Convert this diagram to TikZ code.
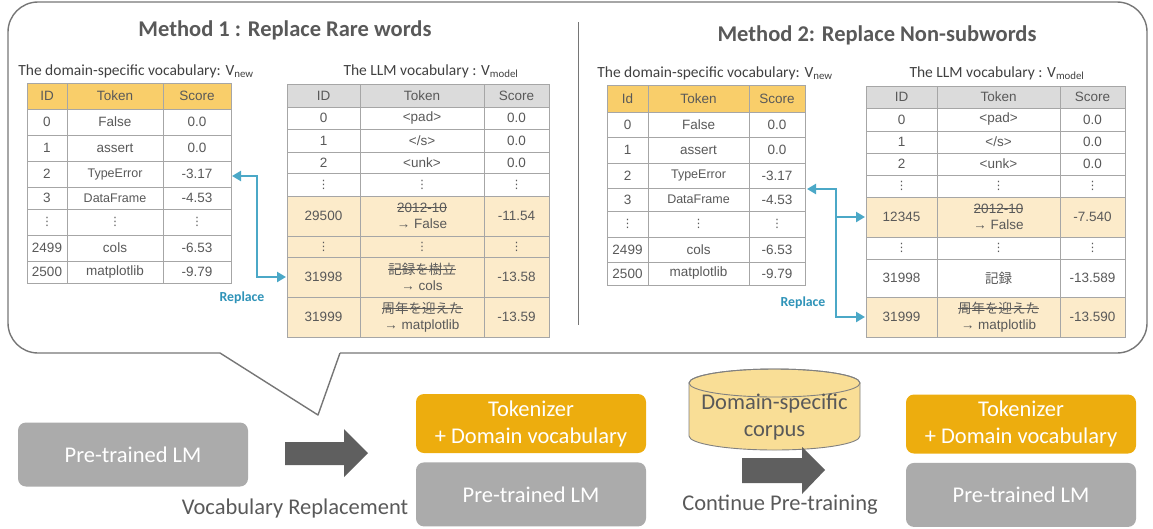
\documentclass[tikz,border=0pt]{standalone}
\usepackage{fontspec}
\setmainfont{Carlito}
\newfontfamily\tabfont{Liberation Sans}
\newfontfamily\jp{Noto Sans CJK JP}
\newfontfamily\dejavu{DejaVu Sans}
\usetikzlibrary{positioning,arrows.meta}

\definecolor{tabtext}{RGB}{89,89,89}
\definecolor{titletext}{RGB}{89,89,89}
\definecolor{labeltext}{RGB}{64,64,64}
\definecolor{gridgray}{RGB}{166,166,166}
\definecolor{hdryellow}{RGB}{249,206,106}
\definecolor{hdrgray}{RGB}{219,219,219}
\definecolor{hlpeach}{RGB}{252,235,202}
\definecolor{boxgray}{RGB}{171,171,171}
\definecolor{boxorange}{RGB}{237,173,14}
\definecolor{corpusfill}{RGB}{249,222,150}
\definecolor{corpusline}{RGB}{128,128,128}
\definecolor{arrowgray}{RGB}{95,95,95}
\definecolor{replteal}{RGB}{75,168,199}
\definecolor{repltext}{RGB}{47,147,184}
\definecolor{bubblegray}{RGB}{118,118,118}

\newsavebox\strkbox
\newcommand\strk[1]{\sbox\strkbox{#1}\rlap{\rule[0.32em]{\wd\strkbox}{0.6pt}}\usebox\strkbox}
\newcommand\smallcell{\fontsize{12.5}{15}\selectfont}
\newcommand\vd{{\dejavu\fontsize{11.5}{11.5}\selectfont ⋮}}

\tikzset{
  cell/.style={font=\tabfont\fontsize{13.5}{16.5}\selectfont, text=tabtext, inner sep=0pt, align=center},
  cellbox/.style={draw=gridgray, line width=0.8pt},
  headline/.style={font=\bfseries\fontsize{22.5}{27}\selectfont, text=titletext},
  vlabel/.style={font=\fontsize{15.5}{18}\selectfont, text=labeltext},
  lmbox/.style={fill=boxgray, rounded corners=8pt, text=white, minimum width=230pt,
    minimum height=64pt, align=center, font=\fontsize{22.5}{27}\selectfont},
  tokbox/.style={lmbox, fill=boxorange, minimum height=59pt},
  steptext/.style={font=\fontsize{22.5}{27}\selectfont, text=titletext, align=center},
  repl/.style={draw=replteal, line width=2.8pt},
  repltip/.tip={Triangle[length=9pt,width=10pt]},
  repllabel/.style={font=\bfseries\fontsize{13.8}{16}\selectfont, text=repltext},
  bubble/.style={draw=bubblegray, line width=1.4pt, line join=round},
  bigarrow/.style={fill=arrowgray},
  corpus/.style={fill=corpusfill, draw=corpusline, line width=0.9pt}
}

% one vocabulary table: name, four column edges, rows
\newcommand{\vtable}[6]{%
  \foreach \yt/\yb/\cl/\id/\tok/\sc [count=\i] in {#6} {
    \filldraw[cellbox, fill=\cl] (#2,\yt) rectangle (#3,\yb);
    \filldraw[cellbox, fill=\cl] (#3,\yt) rectangle (#4,\yb);
    \filldraw[cellbox, fill=\cl] (#4,\yt) rectangle (#5,\yb);
    \node[cell] (#1-\i-id) at ({(#2+#3)/2},{(\yt+\yb)/2}) {\id};
    \node[cell] (#1-\i-tok) at ({(#3+#4)/2},{(\yt+\yb)/2}) {\tok};
    \node[cell] (#1-\i-sc) at ({(#4+#5)/2},{(\yt+\yb)/2}) {\sc};
  }}

\begin{document}
\begin{tikzpicture}[x=1pt,y=-1pt]
  \useasboundingbox (0,0) rectangle (1153,528);

  % speech bubble
  \draw[bubble, rounded corners=30pt]
    (220,353) -- (8,353) -- (8,2) -- (1147,2) -- (1147,353) -- (340,353);
  \draw[bubble] (340,353) -- (318,415) -- (220,353);
  \draw[bubblegray, line width=1pt] (578,22) -- (578,325);

  % method 1
  \node[headline] (m1title) at (285,30) {Method 1 : Replace Rare words};
  \node[vlabel] (m1newlabel) at (136,71) {The domain-specific vocabulary: V\textsubscript{new}};
  \node[vlabel] (m1llmlabel) at (431,71) {The LLM vocabulary : V\textsubscript{model}};

  \vtable{m1new}{27}{67}{163}{231}{
    83/109/hdryellow/ID/Token/Score,
    109/135/white/0/False/0.0,
    135/161/white/1/assert/0.0,
    161/187/white/2/{\smallcell TypeError}/-3.17,
    187/209/white/3/{\smallcell DataFrame}/-4.53,
    209/235/white/\vd/\vd/\vd,
    235/261/white/2499/cols/-6.53,
    261/283/white/2500/matplotlib/-9.79}

  \vtable{m1llm}{287}{360}{484}{549}{
    84/107/hdrgray/ID/Token/Score,
    107/129/white/0/{<pad>}/0.0,
    129/152/white/1/{</s>}/0.0,
    152/173/white/2/{<unk>}/0.0,
    173/196/white/\vd/\vd/\vd,
    196/236/hlpeach/29500/{\strk{2012-10}\\→ False}/-11.54,
    236/257/hlpeach/\vd/\vd/\vd,
    257/297/hlpeach/31998/{\strk{\jp 記録を樹立}\\→ cols}/-13.58,
    297/337/hlpeach/31999/{\strk{\jp 周年を迎えた}\\→ matplotlib}/-13.59}

  \coordinate (m1from) at (232,176);
  \coordinate (m1to) at (286,277);
  \draw[repl, repltip-repltip] (m1from) -- ++(25,0) |- (m1to);
  \node[repllabel] (m1replace) at (242,298) {Replace};

  % method 2
  \node[headline] (m2title) at (877,35) {Method 2: Replace Non-subwords};
  \node[vlabel] (m2newlabel) at (715,73) {The domain-specific vocabulary: V\textsubscript{new}};
  \node[vlabel] (m2llmlabel) at (997,73) {The LLM vocabulary : V\textsubscript{model}};

  \vtable{m2new}{607}{648}{749}{805}{
    85/112/hdryellow/Id/Token/Score,
    112/137/white/0/False/0.0,
    137/163/white/1/assert/0.0,
    163/188/white/2/{\smallcell TypeError}/-3.17,
    188/211/white/3/{\smallcell DataFrame}/-4.53,
    211/237/white/\vd/\vd/\vd,
    237/262/white/2499/cols/-6.53,
    262/285/white/2500/matplotlib/-9.79}

  \vtable{m2llm}{866}{937}{1060}{1125}{
    86/108/hdrgray/ID/Token/Score,
    108/131/white/0/{<pad>}/0.0,
    131/153/white/1/{</s>}/0.0,
    153/175/white/2/{<unk>}/0.0,
    175/197/white/\vd/\vd/\vd,
    197/237/hlpeach/12345/{\strk{2012-10}\\→ False}/-7.540,
    237/259/white/\vd/\vd/\vd,
    259/297/white/31998/{\jp 記録}/-13.589,
    297/337/hlpeach/31999/{\strk{\jp 周年を迎えた}\\→ matplotlib}/-13.590}

  \coordinate (m2from) at (807,189);
  \coordinate (m2top) at (865,217);
  \coordinate (m2bot) at (865,317);
  \draw[repl, repltip-repltip] (m2from) -- ++(29,0) coordinate (m2join) |- (m2bot);
  \draw[repl, -repltip] (m2join |- m2top) -- (m2top);
  \node[repllabel] (m2replace) at (803,303) {Replace};

  % pipeline
  \node[lmbox] (lm0) at (133,454.5) {Pre-trained LM};
  \node[tokbox] (tok1) at (531,423.5) {Tokenizer\\+ Domain vocabulary};
  \node[lmbox, below=9pt of tok1] (lm1) {Pre-trained LM};
  \node[tokbox] (tok2) at (1021,424) {Tokenizer\\+ Domain vocabulary};
  \node[lmbox, below=9pt of tok2] (lm2) {Pre-trained LM};

  \fill[bigarrow] (285,442) -- (344,442) -- (344,429) -- (368,453)
    -- (344,477) -- (344,465) -- (285,465) -- cycle;
  \node[steptext] (vocrep) at (295,508) {Vocabulary Replacement};

  \filldraw[corpus] (689,383) -- (689,436)
    arc[start angle=180, end angle=0, x radius=85.5, y radius=14]
    -- (860,383) arc[start angle=0, end angle=-180, x radius=85.5, y radius=14] -- cycle;
  \draw[corpus, fill=none] (774.5,383) ellipse[x radius=85.5, y radius=14];
  \node[steptext] (corpustext) at (774.5,417.5) {Domain-specific\\corpus};

  \fill[bigarrow] (742,458) -- (802,458) -- (802,447) -- (825,470)
    -- (802,494) -- (802,483) -- (742,483) -- cycle;
  \node[steptext] (contpt) at (780,505) {Continue Pre-training};
\end{tikzpicture}
\end{document}
